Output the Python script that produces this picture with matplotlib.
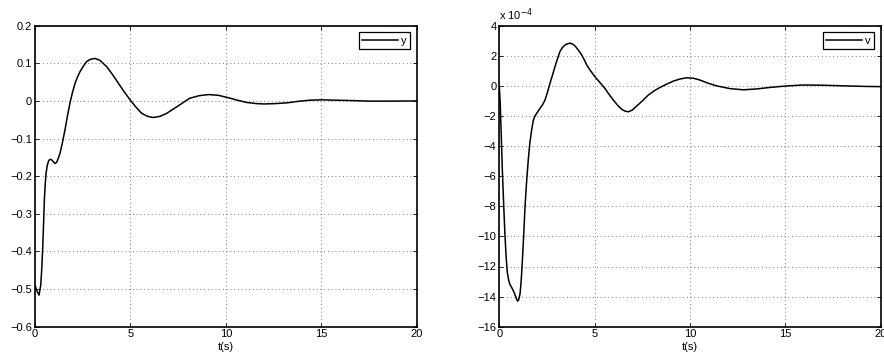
import matplotlib.pyplot as plt
import numpy as np

plt.rcParams['font.family'] = ['Liberation Sans', 'DejaVu Sans']
plt.rcParams['font.size'] = 8
plt.rcParams['axes.unicode_minus'] = True

# y response
t_y = [0, 0.1, 0.21, 0.3, 0.35, 0.4, 0.45, 0.49, 0.54, 0.58, 0.64, 0.7, 0.76,
       0.82, 0.88, 0.95, 1.05, 1.12, 1.18, 1.31, 1.44, 1.57, 1.7, 1.83, 1.96,
       2.1, 2.23, 2.36, 2.54, 2.71, 2.92, 3.14, 3.4, 3.76, 4.05, 4.37, 4.68,
       4.98, 5.3, 5.59, 5.9, 6.2, 6.55, 6.9, 7.2, 7.51, 7.8, 8.1, 8.6, 9.1,
       9.6, 10.1, 10.6, 11.1, 11.6, 12.0, 12.6, 13.2, 13.8, 14.4, 15.0, 15.8,
       16.6, 17.5, 18.5, 20]
y = [-0.49, -0.505, -0.516, -0.49, -0.45, -0.396, -0.325, -0.263, -0.218,
     -0.192, -0.172, -0.161, -0.156, -0.155, -0.157, -0.161, -0.166,
     -0.164, -0.158, -0.139, -0.11, -0.077, -0.04, -0.006, 0.022, 0.047,
     0.064, 0.078, 0.093, 0.105, 0.111, 0.113, 0.108, 0.091, 0.071, 0.047,
     0.024, 0.003, -0.017, -0.033, -0.041, -0.044, -0.041, -0.033, -0.023,
     -0.013, -0.003, 0.007, 0.014, 0.017, 0.015, 0.009, 0.002, -0.004,
     -0.007, -0.008, -0.007, -0.005, -0.001, 0.002, 0.003, 0.002, 0.001,
     -0.0005, -0.0005, 0.0]

# v response in units of 1e-4
t_v = [0, 0.05, 0.1, 0.16, 0.23, 0.3, 0.36, 0.42, 0.49, 0.56, 0.65, 0.73,
       0.8, 0.86, 0.92, 0.96, 1.02, 1.09, 1.15, 1.21, 1.28, 1.35, 1.43, 1.52,
       1.6, 1.7, 1.78, 1.87, 2.0, 2.13, 2.27, 2.4, 2.53, 2.66, 2.79, 2.92,
       3.05, 3.18, 3.31, 3.45, 3.58, 3.71, 3.84, 3.97, 4.13, 4.3, 4.45, 4.58,
       4.8, 5.02, 5.28, 5.54, 5.76, 5.98, 6.2, 6.42, 6.6, 6.77, 6.98, 7.2,
       7.5, 7.81, 8.12, 8.43, 8.78, 9.13, 9.48, 9.83, 10.17, 10.52, 10.95,
       11.4, 12.1, 12.8, 13.5, 14.2, 15.0, 15.9, 16.8, 17.9, 19.0, 20]
v = [0, -1.2, -3.2, -5.6, -7.9, -10.0, -11.4, -12.4, -12.9, -13.2, -13.4,
     -13.6, -13.8, -14.0, -14.2, -14.3, -14.2, -13.8, -12.9, -11.6, -9.9,
     -8.0, -6.4, -4.9, -3.8, -2.9, -2.3, -2.0, -1.75, -1.5, -1.25, -0.93,
     -0.4, 0.18, 0.72, 1.28, 1.8, 2.28, 2.55, 2.72, 2.8, 2.84, 2.78, 2.66,
     2.4, 2.1, 1.75, 1.4, 0.98, 0.6, 0.22, -0.17, -0.57, -0.94, -1.28,
     -1.56, -1.68, -1.72, -1.6, -1.34, -1.0, -0.61, -0.33, -0.1, 0.12, 0.32,
     0.46, 0.54, 0.51, 0.39, 0.18, 0.0, -0.18, -0.26, -0.2, -0.1, -0.01,
     0.06, 0.05, 0.01, -0.03, -0.05]

fig = plt.figure(figsize=(8.84, 3.57), dpi=100)
ax1 = fig.add_axes([35 / 884, 1 - 326.7 / 357, 381.7 / 884, 301 / 357])
ax2 = fig.add_axes([499.3 / 884, 1 - 326.7 / 357, 381.4 / 884, 301 / 357])

for ax, t, s, name in [(ax1, t_y, y, 'y'), (ax2, t_v, v, 'v')]:
    ax.plot(t, s, color='black', linewidth=1.1, label=name)
    ax.set_xlim(0, 20)
    ax.set_xticks([0, 5, 10, 15, 20])
    ax.grid(True, linestyle=(0, (1, 3.5)), color='#555555', linewidth=0.6)
    ax.tick_params(direction='in', top=True, right=True, length=3,
                   width=0.6, labelsize=8, pad=2)
    for sp in ax.spines.values():
        sp.set_linewidth(1.2)
    ax.set_xlabel('t(s)', fontsize=8, labelpad=1.5)
    leg = ax.legend(loc='upper right', fancybox=False, edgecolor='black',
                    fontsize=8, handlelength=3.2, handletextpad=0.3,
                    borderpad=0.3, borderaxespad=0.6, framealpha=1)
    leg.get_frame().set_linewidth(0.9)

ax1.set_ylim(-0.6, 0.2)
ax1.set_yticks(np.arange(-0.6, 0.21, 0.1))
ax1.set_yticklabels(['\u22120.6', '\u22120.5', '\u22120.4', '\u22120.3',
                     '\u22120.2', '\u22120.1', '0', '0.1', '0.2'])

ax2.set_ylim(-16, 4)
ax2.set_yticks(range(-16, 5, 2))
ax2.set_yticklabels([str(k).replace('-', '\u2212') for k in range(-16, 5, 2)])
ax2.text(0, 1.01, 'x 10$^{-4}$', transform=ax2.transAxes, fontsize=8,
         ha='left', va='bottom')

fig.savefig('out.png', dpi=100)
